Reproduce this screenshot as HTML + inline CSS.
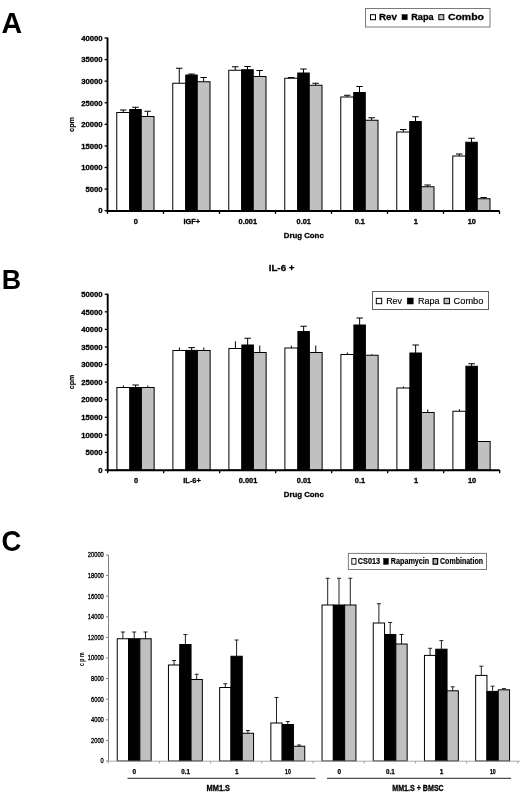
<!DOCTYPE html>
<html lang="en"><head><meta charset="utf-8"><title>Figure: Rev / Rapa / Combo proliferation</title>
<style>html,body{margin:0;padding:0;background:#fff;width:520px;height:793px;overflow:hidden}svg{display:block;will-change:transform;opacity:.999}text{font-family:'Liberation Sans', Arial, Helvetica, sans-serif}</style></head><body>
<svg width="520" height="793" viewBox="0 0 520 793">
<rect x="0" y="0" width="520" height="793" fill="#fff"/>
<g id="chartA">
<text x="1.6" y="33.2" font-size="28.6" font-weight="bold" text-anchor="start" fill="#000" >A</text>
<line x1="123.25" y1="112.5" x2="123.25" y2="110" stroke="#000" stroke-width="1"/>
<line x1="120" y1="110" x2="126.5" y2="110" stroke="#000" stroke-width="1"/>
<rect x="116.75" y="112.5" width="13" height="98.2" fill="#fff" stroke="#000" stroke-width="1"/>
<line x1="135.5" y1="109.5" x2="135.5" y2="107.25" stroke="#000" stroke-width="1"/>
<line x1="132.25" y1="107.25" x2="138.75" y2="107.25" stroke="#000" stroke-width="1"/>
<rect x="129.75" y="109.5" width="11.5" height="101.2" fill="#000" stroke="#000" stroke-width="1"/>
<line x1="147.62" y1="116.5" x2="147.62" y2="111.25" stroke="#000" stroke-width="1"/>
<line x1="144.38" y1="111.25" x2="150.88" y2="111.25" stroke="#000" stroke-width="1"/>
<rect x="141.25" y="116.5" width="12.75" height="94.2" fill="#c0c0c0" stroke="#000" stroke-width="1"/>
<line x1="179.25" y1="83.25" x2="179.25" y2="68.25" stroke="#000" stroke-width="1"/>
<line x1="176" y1="68.25" x2="182.5" y2="68.25" stroke="#000" stroke-width="1"/>
<rect x="172.75" y="83.25" width="13" height="127.45" fill="#fff" stroke="#000" stroke-width="1"/>
<line x1="191.5" y1="75" x2="191.5" y2="74" stroke="#000" stroke-width="1"/>
<line x1="188.25" y1="74" x2="194.75" y2="74" stroke="#000" stroke-width="1"/>
<rect x="185.75" y="75" width="11.5" height="135.7" fill="#000" stroke="#000" stroke-width="1"/>
<line x1="203.62" y1="81.75" x2="203.62" y2="77.5" stroke="#000" stroke-width="1"/>
<line x1="200.38" y1="77.5" x2="206.88" y2="77.5" stroke="#000" stroke-width="1"/>
<rect x="197.25" y="81.75" width="12.75" height="128.95" fill="#c0c0c0" stroke="#000" stroke-width="1"/>
<line x1="235.25" y1="70.25" x2="235.25" y2="66.75" stroke="#000" stroke-width="1"/>
<line x1="232" y1="66.75" x2="238.5" y2="66.75" stroke="#000" stroke-width="1"/>
<rect x="228.75" y="70.25" width="13" height="140.45" fill="#fff" stroke="#000" stroke-width="1"/>
<line x1="247.5" y1="69.75" x2="247.5" y2="66.5" stroke="#000" stroke-width="1"/>
<line x1="244.25" y1="66.5" x2="250.75" y2="66.5" stroke="#000" stroke-width="1"/>
<rect x="241.75" y="69.75" width="11.5" height="140.95" fill="#000" stroke="#000" stroke-width="1"/>
<line x1="259.62" y1="76.5" x2="259.62" y2="70.5" stroke="#000" stroke-width="1"/>
<line x1="256.38" y1="70.5" x2="262.88" y2="70.5" stroke="#000" stroke-width="1"/>
<rect x="253.25" y="76.5" width="12.75" height="134.2" fill="#c0c0c0" stroke="#000" stroke-width="1"/>
<line x1="291.25" y1="78.25" x2="291.25" y2="77.5" stroke="#000" stroke-width="1"/>
<line x1="288" y1="77.5" x2="294.5" y2="77.5" stroke="#000" stroke-width="1"/>
<rect x="284.75" y="78.25" width="13" height="132.45" fill="#fff" stroke="#000" stroke-width="1"/>
<line x1="303.5" y1="73" x2="303.5" y2="69" stroke="#000" stroke-width="1"/>
<line x1="300.25" y1="69" x2="306.75" y2="69" stroke="#000" stroke-width="1"/>
<rect x="297.75" y="73" width="11.5" height="137.7" fill="#000" stroke="#000" stroke-width="1"/>
<line x1="315.62" y1="85.25" x2="315.62" y2="83.25" stroke="#000" stroke-width="1"/>
<line x1="312.38" y1="83.25" x2="318.88" y2="83.25" stroke="#000" stroke-width="1"/>
<rect x="309.25" y="85.25" width="12.75" height="125.45" fill="#c0c0c0" stroke="#000" stroke-width="1"/>
<line x1="347.25" y1="97" x2="347.25" y2="95.25" stroke="#000" stroke-width="1"/>
<line x1="344" y1="95.25" x2="350.5" y2="95.25" stroke="#000" stroke-width="1"/>
<rect x="340.75" y="97" width="13" height="113.7" fill="#fff" stroke="#000" stroke-width="1"/>
<line x1="359.5" y1="92.5" x2="359.5" y2="86.5" stroke="#000" stroke-width="1"/>
<line x1="356.25" y1="86.5" x2="362.75" y2="86.5" stroke="#000" stroke-width="1"/>
<rect x="353.75" y="92.5" width="11.5" height="118.2" fill="#000" stroke="#000" stroke-width="1"/>
<line x1="371.62" y1="120.25" x2="371.62" y2="117.75" stroke="#000" stroke-width="1"/>
<line x1="368.38" y1="117.75" x2="374.88" y2="117.75" stroke="#000" stroke-width="1"/>
<rect x="365.25" y="120.25" width="12.75" height="90.45" fill="#c0c0c0" stroke="#000" stroke-width="1"/>
<line x1="403.25" y1="132" x2="403.25" y2="129.5" stroke="#000" stroke-width="1"/>
<line x1="400" y1="129.5" x2="406.5" y2="129.5" stroke="#000" stroke-width="1"/>
<rect x="396.75" y="132" width="13" height="78.7" fill="#fff" stroke="#000" stroke-width="1"/>
<line x1="415.5" y1="121.5" x2="415.5" y2="116.75" stroke="#000" stroke-width="1"/>
<line x1="412.25" y1="116.75" x2="418.75" y2="116.75" stroke="#000" stroke-width="1"/>
<rect x="409.75" y="121.5" width="11.5" height="89.2" fill="#000" stroke="#000" stroke-width="1"/>
<line x1="427.62" y1="186.75" x2="427.62" y2="185" stroke="#000" stroke-width="1"/>
<line x1="424.38" y1="185" x2="430.88" y2="185" stroke="#000" stroke-width="1"/>
<rect x="421.25" y="186.75" width="12.75" height="23.95" fill="#c0c0c0" stroke="#000" stroke-width="1"/>
<line x1="459.25" y1="156" x2="459.25" y2="154" stroke="#000" stroke-width="1"/>
<line x1="456" y1="154" x2="462.5" y2="154" stroke="#000" stroke-width="1"/>
<rect x="452.75" y="156" width="13" height="54.7" fill="#fff" stroke="#000" stroke-width="1"/>
<line x1="471.5" y1="142.25" x2="471.5" y2="138.25" stroke="#000" stroke-width="1"/>
<line x1="468.25" y1="138.25" x2="474.75" y2="138.25" stroke="#000" stroke-width="1"/>
<rect x="465.75" y="142.25" width="11.5" height="68.45" fill="#000" stroke="#000" stroke-width="1"/>
<line x1="483.62" y1="198.75" x2="483.62" y2="197.5" stroke="#000" stroke-width="1"/>
<line x1="480.38" y1="197.5" x2="486.88" y2="197.5" stroke="#000" stroke-width="1"/>
<rect x="477.25" y="198.75" width="12.75" height="11.95" fill="#c0c0c0" stroke="#000" stroke-width="1"/>
<line x1="107.5" y1="37.5" x2="107.5" y2="212" stroke="#000" stroke-width="1.9"/>
<line x1="106.6" y1="211.05" x2="499.4" y2="211.05" stroke="#000" stroke-width="2"/>
<line x1="104.6" y1="210.7" x2="107.5" y2="210.7" stroke="#000" stroke-width="1.3"/>
<text x="102.6" y="213.45" font-size="7.7" font-weight="bold" text-anchor="end" fill="#000" stroke="#000" stroke-width="0.3" stroke-linejoin="round" >0</text>
<line x1="104.6" y1="189.11" x2="107.5" y2="189.11" stroke="#000" stroke-width="1.3"/>
<text x="102.6" y="191.86" font-size="7.7" font-weight="bold" text-anchor="end" fill="#000" stroke="#000" stroke-width="0.3" stroke-linejoin="round" >5000</text>
<line x1="104.6" y1="167.52" x2="107.5" y2="167.52" stroke="#000" stroke-width="1.3"/>
<text x="102.6" y="170.27" font-size="7.7" font-weight="bold" text-anchor="end" fill="#000" stroke="#000" stroke-width="0.3" stroke-linejoin="round" >10000</text>
<line x1="104.6" y1="145.94" x2="107.5" y2="145.94" stroke="#000" stroke-width="1.3"/>
<text x="102.6" y="148.69" font-size="7.7" font-weight="bold" text-anchor="end" fill="#000" stroke="#000" stroke-width="0.3" stroke-linejoin="round" >15000</text>
<line x1="104.6" y1="124.35" x2="107.5" y2="124.35" stroke="#000" stroke-width="1.3"/>
<text x="102.6" y="127.1" font-size="7.7" font-weight="bold" text-anchor="end" fill="#000" stroke="#000" stroke-width="0.3" stroke-linejoin="round" >20000</text>
<line x1="104.6" y1="102.76" x2="107.5" y2="102.76" stroke="#000" stroke-width="1.3"/>
<text x="102.6" y="105.51" font-size="7.7" font-weight="bold" text-anchor="end" fill="#000" stroke="#000" stroke-width="0.3" stroke-linejoin="round" >25000</text>
<line x1="104.6" y1="81.18" x2="107.5" y2="81.18" stroke="#000" stroke-width="1.3"/>
<text x="102.6" y="83.93" font-size="7.7" font-weight="bold" text-anchor="end" fill="#000" stroke="#000" stroke-width="0.3" stroke-linejoin="round" >30000</text>
<line x1="104.6" y1="59.59" x2="107.5" y2="59.59" stroke="#000" stroke-width="1.3"/>
<text x="102.6" y="62.34" font-size="7.7" font-weight="bold" text-anchor="end" fill="#000" stroke="#000" stroke-width="0.3" stroke-linejoin="round" >35000</text>
<line x1="104.6" y1="38" x2="107.5" y2="38" stroke="#000" stroke-width="1.3"/>
<text x="102.6" y="40.75" font-size="7.7" font-weight="bold" text-anchor="end" fill="#000" stroke="#000" stroke-width="0.3" stroke-linejoin="round" >40000</text>
<line x1="107.5" y1="210.7" x2="107.5" y2="213.9" stroke="#000" stroke-width="1.3"/>
<line x1="163.5" y1="210.7" x2="163.5" y2="213.9" stroke="#000" stroke-width="1.3"/>
<line x1="219.5" y1="210.7" x2="219.5" y2="213.9" stroke="#000" stroke-width="1.3"/>
<line x1="275.5" y1="210.7" x2="275.5" y2="213.9" stroke="#000" stroke-width="1.3"/>
<line x1="331.5" y1="210.7" x2="331.5" y2="213.9" stroke="#000" stroke-width="1.3"/>
<line x1="387.5" y1="210.7" x2="387.5" y2="213.9" stroke="#000" stroke-width="1.3"/>
<line x1="443.5" y1="210.7" x2="443.5" y2="213.9" stroke="#000" stroke-width="1.3"/>
<line x1="499.5" y1="210.7" x2="499.5" y2="213.9" stroke="#000" stroke-width="1.3"/>
<text x="135.8" y="224.2" font-size="7.4" font-weight="bold" text-anchor="middle" fill="#000" stroke="#000" stroke-width="0.3" stroke-linejoin="round" >0</text>
<text x="191.8" y="224.2" font-size="7.4" font-weight="bold" text-anchor="middle" fill="#000" stroke="#000" stroke-width="0.3" stroke-linejoin="round" >IGF+</text>
<text x="247.8" y="224.2" font-size="7.4" font-weight="bold" text-anchor="middle" fill="#000" stroke="#000" stroke-width="0.3" stroke-linejoin="round" >0.001</text>
<text x="303.8" y="224.2" font-size="7.4" font-weight="bold" text-anchor="middle" fill="#000" stroke="#000" stroke-width="0.3" stroke-linejoin="round" >0.01</text>
<text x="359.8" y="224.2" font-size="7.4" font-weight="bold" text-anchor="middle" fill="#000" stroke="#000" stroke-width="0.3" stroke-linejoin="round" >0.1</text>
<text x="415.8" y="224.2" font-size="7.4" font-weight="bold" text-anchor="middle" fill="#000" stroke="#000" stroke-width="0.3" stroke-linejoin="round" >1</text>
<text x="471.8" y="224.2" font-size="7.4" font-weight="bold" text-anchor="middle" fill="#000" stroke="#000" stroke-width="0.3" stroke-linejoin="round" >10</text>
<text x="303.75" y="238.4" font-size="7.8" font-weight="bold" text-anchor="middle" fill="#000" textLength="40" lengthAdjust="spacingAndGlyphs" stroke="#000" stroke-width="0.3" stroke-linejoin="round" >Drug Conc</text>
<text x="0" y="0" font-size="7.3" font-weight="bold" text-anchor="middle" fill="#000" stroke="#000" stroke-width="0.15" stroke-linejoin="round" transform="translate(73.6 124.4) rotate(-90)">cpm</text>
<rect x="365.5" y="8.5" width="124.5" height="18.5" fill="#fff" stroke="#7a7a7a" stroke-width="1"/>
<rect x="370.5" y="14.7" width="5" height="5" fill="#fff" stroke="#000" stroke-width="1"/>
<text x="379" y="20.3" font-size="9.5" font-weight="bold" text-anchor="start" fill="#000" textLength="18" lengthAdjust="spacingAndGlyphs" stroke="#000" stroke-width="0.3" stroke-linejoin="round" >Rev</text>
<rect x="402" y="14.6" width="5.2" height="5.2" fill="#000" stroke="#000" stroke-width="0.5"/>
<text x="411.2" y="20.3" font-size="9.5" font-weight="bold" text-anchor="start" fill="#000" textLength="22.4" lengthAdjust="spacingAndGlyphs" stroke="#000" stroke-width="0.3" stroke-linejoin="round" >Rapa</text>
<rect x="438.8" y="14.7" width="5" height="5" fill="#c0c0c0" stroke="#000" stroke-width="1"/>
<text x="447.9" y="20.3" font-size="9.5" font-weight="bold" text-anchor="start" fill="#000" textLength="36.1" lengthAdjust="spacingAndGlyphs" stroke="#000" stroke-width="0.3" stroke-linejoin="round" >Combo</text>
</g>
<g id="chartB">
<text x="1.8" y="289.4" font-size="26.8" font-weight="bold" text-anchor="start" fill="#000" >B</text>
<text x="281.6" y="270.7" font-size="9.5" font-weight="bold" text-anchor="middle" fill="#000" textLength="25.8" lengthAdjust="spacingAndGlyphs" stroke="#000" stroke-width="0.3" stroke-linejoin="round" >IL-6 +</text>
<line x1="123.4" y1="387.5" x2="123.4" y2="385.5" stroke="#000" stroke-width="1"/>
<rect x="116.9" y="387.5" width="13" height="82.5" fill="#fff" stroke="#000" stroke-width="1"/>
<line x1="135.65" y1="387.5" x2="135.65" y2="385" stroke="#000" stroke-width="1"/>
<line x1="132.4" y1="385" x2="138.9" y2="385" stroke="#000" stroke-width="1"/>
<rect x="129.9" y="387.5" width="11.5" height="82.5" fill="#000" stroke="#000" stroke-width="1"/>
<line x1="147.78" y1="387.5" x2="147.78" y2="385.5" stroke="#000" stroke-width="1"/>
<rect x="141.4" y="387.5" width="12.75" height="82.5" fill="#c0c0c0" stroke="#000" stroke-width="1"/>
<line x1="179.4" y1="350.5" x2="179.4" y2="347.5" stroke="#000" stroke-width="1"/>
<rect x="172.9" y="350.5" width="13" height="119.5" fill="#fff" stroke="#000" stroke-width="1"/>
<line x1="191.65" y1="350.4" x2="191.65" y2="347.6" stroke="#000" stroke-width="1"/>
<line x1="188.4" y1="347.6" x2="194.9" y2="347.6" stroke="#000" stroke-width="1"/>
<rect x="185.9" y="350.4" width="11.5" height="119.6" fill="#000" stroke="#000" stroke-width="1"/>
<line x1="203.78" y1="350.5" x2="203.78" y2="347.5" stroke="#000" stroke-width="1"/>
<rect x="197.4" y="350.5" width="12.75" height="119.5" fill="#c0c0c0" stroke="#000" stroke-width="1"/>
<line x1="235.4" y1="348.5" x2="235.4" y2="341.25" stroke="#000" stroke-width="1"/>
<rect x="228.9" y="348.5" width="13" height="121.5" fill="#fff" stroke="#000" stroke-width="1"/>
<line x1="247.65" y1="345" x2="247.65" y2="338.25" stroke="#000" stroke-width="1"/>
<line x1="244.4" y1="338.25" x2="250.9" y2="338.25" stroke="#000" stroke-width="1"/>
<rect x="241.9" y="345" width="11.5" height="125" fill="#000" stroke="#000" stroke-width="1"/>
<line x1="259.77" y1="352.5" x2="259.77" y2="345.5" stroke="#000" stroke-width="1"/>
<rect x="253.4" y="352.5" width="12.75" height="117.5" fill="#c0c0c0" stroke="#000" stroke-width="1"/>
<line x1="291.4" y1="348" x2="291.4" y2="345.75" stroke="#000" stroke-width="1"/>
<rect x="284.9" y="348" width="13" height="122" fill="#fff" stroke="#000" stroke-width="1"/>
<line x1="303.65" y1="331.5" x2="303.65" y2="326.25" stroke="#000" stroke-width="1"/>
<line x1="300.4" y1="326.25" x2="306.9" y2="326.25" stroke="#000" stroke-width="1"/>
<rect x="297.9" y="331.5" width="11.5" height="138.5" fill="#000" stroke="#000" stroke-width="1"/>
<line x1="315.77" y1="352.5" x2="315.77" y2="345.5" stroke="#000" stroke-width="1"/>
<rect x="309.4" y="352.5" width="12.75" height="117.5" fill="#c0c0c0" stroke="#000" stroke-width="1"/>
<line x1="347.4" y1="354.5" x2="347.4" y2="352.5" stroke="#000" stroke-width="1"/>
<rect x="340.9" y="354.5" width="13" height="115.5" fill="#fff" stroke="#000" stroke-width="1"/>
<line x1="359.65" y1="325" x2="359.65" y2="318" stroke="#000" stroke-width="1"/>
<line x1="356.4" y1="318" x2="362.9" y2="318" stroke="#000" stroke-width="1"/>
<rect x="353.9" y="325" width="11.5" height="145" fill="#000" stroke="#000" stroke-width="1"/>
<line x1="371.77" y1="355.25" x2="371.77" y2="354.25" stroke="#000" stroke-width="1"/>
<rect x="365.4" y="355.25" width="12.75" height="114.75" fill="#c0c0c0" stroke="#000" stroke-width="1"/>
<line x1="403.4" y1="388" x2="403.4" y2="386.5" stroke="#000" stroke-width="1"/>
<rect x="396.9" y="388" width="13" height="82" fill="#fff" stroke="#000" stroke-width="1"/>
<line x1="415.65" y1="353" x2="415.65" y2="345" stroke="#000" stroke-width="1"/>
<line x1="412.4" y1="345" x2="418.9" y2="345" stroke="#000" stroke-width="1"/>
<rect x="409.9" y="353" width="11.5" height="117" fill="#000" stroke="#000" stroke-width="1"/>
<line x1="427.77" y1="412.5" x2="427.77" y2="409.5" stroke="#000" stroke-width="1"/>
<rect x="421.4" y="412.5" width="12.75" height="57.5" fill="#c0c0c0" stroke="#000" stroke-width="1"/>
<line x1="459.4" y1="411.25" x2="459.4" y2="409.25" stroke="#000" stroke-width="1"/>
<rect x="452.9" y="411.25" width="13" height="58.75" fill="#fff" stroke="#000" stroke-width="1"/>
<line x1="471.65" y1="366.25" x2="471.65" y2="363.75" stroke="#000" stroke-width="1"/>
<line x1="468.4" y1="363.75" x2="474.9" y2="363.75" stroke="#000" stroke-width="1"/>
<rect x="465.9" y="366.25" width="11.5" height="103.75" fill="#000" stroke="#000" stroke-width="1"/>
<rect x="477.4" y="441.5" width="12.75" height="28.5" fill="#c0c0c0" stroke="#000" stroke-width="1"/>
<line x1="107.7" y1="293.75" x2="107.7" y2="471.3" stroke="#000" stroke-width="1.9"/>
<line x1="106.8" y1="470.35" x2="499.6" y2="470.35" stroke="#000" stroke-width="2"/>
<line x1="104.8" y1="470" x2="107.7" y2="470" stroke="#000" stroke-width="1.3"/>
<text x="102.6" y="472.75" font-size="7.7" font-weight="bold" text-anchor="end" fill="#000" stroke="#000" stroke-width="0.3" stroke-linejoin="round" >0</text>
<line x1="104.8" y1="452.43" x2="107.7" y2="452.43" stroke="#000" stroke-width="1.3"/>
<text x="102.6" y="455.18" font-size="7.7" font-weight="bold" text-anchor="end" fill="#000" stroke="#000" stroke-width="0.3" stroke-linejoin="round" >5000</text>
<line x1="104.8" y1="434.85" x2="107.7" y2="434.85" stroke="#000" stroke-width="1.3"/>
<text x="102.6" y="437.6" font-size="7.7" font-weight="bold" text-anchor="end" fill="#000" stroke="#000" stroke-width="0.3" stroke-linejoin="round" >10000</text>
<line x1="104.8" y1="417.27" x2="107.7" y2="417.27" stroke="#000" stroke-width="1.3"/>
<text x="102.6" y="420.02" font-size="7.7" font-weight="bold" text-anchor="end" fill="#000" stroke="#000" stroke-width="0.3" stroke-linejoin="round" >15000</text>
<line x1="104.8" y1="399.7" x2="107.7" y2="399.7" stroke="#000" stroke-width="1.3"/>
<text x="102.6" y="402.45" font-size="7.7" font-weight="bold" text-anchor="end" fill="#000" stroke="#000" stroke-width="0.3" stroke-linejoin="round" >20000</text>
<line x1="104.8" y1="382.12" x2="107.7" y2="382.12" stroke="#000" stroke-width="1.3"/>
<text x="102.6" y="384.88" font-size="7.7" font-weight="bold" text-anchor="end" fill="#000" stroke="#000" stroke-width="0.3" stroke-linejoin="round" >25000</text>
<line x1="104.8" y1="364.55" x2="107.7" y2="364.55" stroke="#000" stroke-width="1.3"/>
<text x="102.6" y="367.3" font-size="7.7" font-weight="bold" text-anchor="end" fill="#000" stroke="#000" stroke-width="0.3" stroke-linejoin="round" >30000</text>
<line x1="104.8" y1="346.98" x2="107.7" y2="346.98" stroke="#000" stroke-width="1.3"/>
<text x="102.6" y="349.73" font-size="7.7" font-weight="bold" text-anchor="end" fill="#000" stroke="#000" stroke-width="0.3" stroke-linejoin="round" >35000</text>
<line x1="104.8" y1="329.4" x2="107.7" y2="329.4" stroke="#000" stroke-width="1.3"/>
<text x="102.6" y="332.15" font-size="7.7" font-weight="bold" text-anchor="end" fill="#000" stroke="#000" stroke-width="0.3" stroke-linejoin="round" >40000</text>
<line x1="104.8" y1="311.82" x2="107.7" y2="311.82" stroke="#000" stroke-width="1.3"/>
<text x="102.6" y="314.57" font-size="7.7" font-weight="bold" text-anchor="end" fill="#000" stroke="#000" stroke-width="0.3" stroke-linejoin="round" >45000</text>
<line x1="104.8" y1="294.25" x2="107.7" y2="294.25" stroke="#000" stroke-width="1.3"/>
<text x="102.6" y="297" font-size="7.7" font-weight="bold" text-anchor="end" fill="#000" stroke="#000" stroke-width="0.3" stroke-linejoin="round" >50000</text>
<line x1="107.7" y1="470" x2="107.7" y2="473.2" stroke="#000" stroke-width="1.3"/>
<line x1="163.7" y1="470" x2="163.7" y2="473.2" stroke="#000" stroke-width="1.3"/>
<line x1="219.7" y1="470" x2="219.7" y2="473.2" stroke="#000" stroke-width="1.3"/>
<line x1="275.7" y1="470" x2="275.7" y2="473.2" stroke="#000" stroke-width="1.3"/>
<line x1="331.7" y1="470" x2="331.7" y2="473.2" stroke="#000" stroke-width="1.3"/>
<line x1="387.7" y1="470" x2="387.7" y2="473.2" stroke="#000" stroke-width="1.3"/>
<line x1="443.7" y1="470" x2="443.7" y2="473.2" stroke="#000" stroke-width="1.3"/>
<line x1="499.7" y1="470" x2="499.7" y2="473.2" stroke="#000" stroke-width="1.3"/>
<text x="136" y="483.2" font-size="7.4" font-weight="bold" text-anchor="middle" fill="#000" stroke="#000" stroke-width="0.3" stroke-linejoin="round" >0</text>
<text x="192" y="483.2" font-size="7.4" font-weight="bold" text-anchor="middle" fill="#000" stroke="#000" stroke-width="0.3" stroke-linejoin="round" >IL-6+</text>
<text x="248" y="483.2" font-size="7.4" font-weight="bold" text-anchor="middle" fill="#000" stroke="#000" stroke-width="0.3" stroke-linejoin="round" >0.001</text>
<text x="304" y="483.2" font-size="7.4" font-weight="bold" text-anchor="middle" fill="#000" stroke="#000" stroke-width="0.3" stroke-linejoin="round" >0.01</text>
<text x="360" y="483.2" font-size="7.4" font-weight="bold" text-anchor="middle" fill="#000" stroke="#000" stroke-width="0.3" stroke-linejoin="round" >0.1</text>
<text x="416" y="483.2" font-size="7.4" font-weight="bold" text-anchor="middle" fill="#000" stroke="#000" stroke-width="0.3" stroke-linejoin="round" >1</text>
<text x="472" y="483.2" font-size="7.4" font-weight="bold" text-anchor="middle" fill="#000" stroke="#000" stroke-width="0.3" stroke-linejoin="round" >10</text>
<text x="303.75" y="497.3" font-size="7.8" font-weight="bold" text-anchor="middle" fill="#000" textLength="40" lengthAdjust="spacingAndGlyphs" stroke="#000" stroke-width="0.3" stroke-linejoin="round" >Drug Conc</text>
<text x="0" y="0" font-size="7.1" font-weight="bold" text-anchor="middle" fill="#000" stroke="#000" stroke-width="0.15" stroke-linejoin="round" transform="translate(73.6 382) rotate(-90)">cpm</text>
<rect x="372.5" y="291.5" width="116" height="18" fill="#fff" stroke="#606060" stroke-width="1"/>
<rect x="376.3" y="298.3" width="5.4" height="5.4" fill="#fff" stroke="#000" stroke-width="1"/>
<text x="386.2" y="304" font-size="9.6" font-weight="normal" text-anchor="start" fill="#000" textLength="15.8" lengthAdjust="spacingAndGlyphs" stroke="#000" stroke-width="0.15" stroke-linejoin="round" >Rev</text>
<rect x="407.2" y="298" width="6" height="6" fill="#000" stroke="#000" stroke-width="0.5"/>
<text x="417.9" y="304" font-size="9.6" font-weight="normal" text-anchor="start" fill="#000" textLength="21.6" lengthAdjust="spacingAndGlyphs" stroke="#000" stroke-width="0.15" stroke-linejoin="round" >Rapa</text>
<rect x="444.1" y="298.3" width="5.4" height="5.4" fill="#c0c0c0" stroke="#000" stroke-width="1"/>
<text x="453.6" y="304" font-size="9.6" font-weight="normal" text-anchor="start" fill="#000" textLength="29.8" lengthAdjust="spacingAndGlyphs" stroke="#000" stroke-width="0.15" stroke-linejoin="round" >Combo</text>
</g>
<g id="chartC">
<text x="1.4" y="551.3" font-size="29.4" font-weight="bold" text-anchor="start" fill="#000" textLength="19.8" lengthAdjust="spacingAndGlyphs" >C</text>
<line x1="122.9" y1="638.75" x2="122.9" y2="632" stroke="#222" stroke-width="1"/>
<line x1="120.9" y1="632" x2="124.9" y2="632" stroke="#222" stroke-width="1"/>
<rect x="117.25" y="638.75" width="11.3" height="122.25" fill="#fff" stroke="#000" stroke-width="1"/>
<line x1="134.2" y1="638.75" x2="134.2" y2="632" stroke="#222" stroke-width="1"/>
<line x1="132.2" y1="632" x2="136.2" y2="632" stroke="#222" stroke-width="1"/>
<rect x="128.55" y="638.75" width="11.3" height="122.25" fill="#000" stroke="#000" stroke-width="1"/>
<line x1="145.5" y1="638.75" x2="145.5" y2="632" stroke="#222" stroke-width="1"/>
<line x1="143.5" y1="632" x2="147.5" y2="632" stroke="#222" stroke-width="1"/>
<rect x="139.85" y="638.75" width="11.3" height="122.25" fill="#c0c0c0" stroke="#000" stroke-width="1"/>
<line x1="174.1" y1="665" x2="174.1" y2="660.5" stroke="#222" stroke-width="1"/>
<line x1="172.1" y1="660.5" x2="176.1" y2="660.5" stroke="#222" stroke-width="1"/>
<rect x="168.45" y="665" width="11.3" height="96" fill="#fff" stroke="#000" stroke-width="1"/>
<line x1="185.4" y1="644.5" x2="185.4" y2="634.5" stroke="#222" stroke-width="1"/>
<line x1="183.4" y1="634.5" x2="187.4" y2="634.5" stroke="#222" stroke-width="1"/>
<rect x="179.75" y="644.5" width="11.3" height="116.5" fill="#000" stroke="#000" stroke-width="1"/>
<line x1="196.7" y1="679.5" x2="196.7" y2="674.25" stroke="#222" stroke-width="1"/>
<line x1="194.7" y1="674.25" x2="198.7" y2="674.25" stroke="#222" stroke-width="1"/>
<rect x="191.05" y="679.5" width="11.3" height="81.5" fill="#c0c0c0" stroke="#000" stroke-width="1"/>
<line x1="225.3" y1="687.5" x2="225.3" y2="683.75" stroke="#222" stroke-width="1"/>
<line x1="223.3" y1="683.75" x2="227.3" y2="683.75" stroke="#222" stroke-width="1"/>
<rect x="219.65" y="687.5" width="11.3" height="73.5" fill="#fff" stroke="#000" stroke-width="1"/>
<line x1="236.6" y1="656.25" x2="236.6" y2="640" stroke="#222" stroke-width="1"/>
<line x1="234.6" y1="640" x2="238.6" y2="640" stroke="#222" stroke-width="1"/>
<rect x="230.95" y="656.25" width="11.3" height="104.75" fill="#000" stroke="#000" stroke-width="1"/>
<line x1="247.9" y1="733.25" x2="247.9" y2="730.5" stroke="#222" stroke-width="1"/>
<line x1="245.9" y1="730.5" x2="249.9" y2="730.5" stroke="#222" stroke-width="1"/>
<rect x="242.25" y="733.25" width="11.3" height="27.75" fill="#c0c0c0" stroke="#000" stroke-width="1"/>
<line x1="276.5" y1="723" x2="276.5" y2="697.5" stroke="#222" stroke-width="1"/>
<line x1="274.5" y1="697.5" x2="278.5" y2="697.5" stroke="#222" stroke-width="1"/>
<rect x="270.85" y="723" width="11.3" height="38" fill="#fff" stroke="#000" stroke-width="1"/>
<line x1="287.8" y1="724.5" x2="287.8" y2="721.5" stroke="#222" stroke-width="1"/>
<line x1="285.8" y1="721.5" x2="289.8" y2="721.5" stroke="#222" stroke-width="1"/>
<rect x="282.15" y="724.5" width="11.3" height="36.5" fill="#000" stroke="#000" stroke-width="1"/>
<line x1="299.1" y1="746.25" x2="299.1" y2="745" stroke="#222" stroke-width="1"/>
<line x1="297.1" y1="745" x2="301.1" y2="745" stroke="#222" stroke-width="1"/>
<rect x="293.45" y="746.25" width="11.3" height="14.75" fill="#c0c0c0" stroke="#000" stroke-width="1"/>
<line x1="327.7" y1="605" x2="327.7" y2="578.25" stroke="#222" stroke-width="1"/>
<line x1="325.7" y1="578.25" x2="329.7" y2="578.25" stroke="#222" stroke-width="1"/>
<rect x="322.05" y="605" width="11.3" height="156" fill="#fff" stroke="#000" stroke-width="1"/>
<line x1="339" y1="605" x2="339" y2="578.25" stroke="#222" stroke-width="1"/>
<line x1="337" y1="578.25" x2="341" y2="578.25" stroke="#222" stroke-width="1"/>
<rect x="333.35" y="605" width="11.3" height="156" fill="#000" stroke="#000" stroke-width="1"/>
<line x1="350.3" y1="605" x2="350.3" y2="578.25" stroke="#222" stroke-width="1"/>
<line x1="348.3" y1="578.25" x2="352.3" y2="578.25" stroke="#222" stroke-width="1"/>
<rect x="344.65" y="605" width="11.3" height="156" fill="#c0c0c0" stroke="#000" stroke-width="1"/>
<line x1="378.9" y1="623" x2="378.9" y2="603.7" stroke="#222" stroke-width="1"/>
<line x1="376.9" y1="603.7" x2="380.9" y2="603.7" stroke="#222" stroke-width="1"/>
<rect x="373.25" y="623" width="11.3" height="138" fill="#fff" stroke="#000" stroke-width="1"/>
<line x1="390.2" y1="634.5" x2="390.2" y2="622.5" stroke="#222" stroke-width="1"/>
<line x1="388.2" y1="622.5" x2="392.2" y2="622.5" stroke="#222" stroke-width="1"/>
<rect x="384.55" y="634.5" width="11.3" height="126.5" fill="#000" stroke="#000" stroke-width="1"/>
<line x1="401.5" y1="644" x2="401.5" y2="634.5" stroke="#222" stroke-width="1"/>
<line x1="399.5" y1="634.5" x2="403.5" y2="634.5" stroke="#222" stroke-width="1"/>
<rect x="395.85" y="644" width="11.3" height="117" fill="#c0c0c0" stroke="#000" stroke-width="1"/>
<line x1="430.1" y1="655.4" x2="430.1" y2="648.3" stroke="#222" stroke-width="1"/>
<line x1="428.1" y1="648.3" x2="432.1" y2="648.3" stroke="#222" stroke-width="1"/>
<rect x="424.45" y="655.4" width="11.3" height="105.6" fill="#fff" stroke="#000" stroke-width="1"/>
<line x1="441.4" y1="649.2" x2="441.4" y2="640.6" stroke="#222" stroke-width="1"/>
<line x1="439.4" y1="640.6" x2="443.4" y2="640.6" stroke="#222" stroke-width="1"/>
<rect x="435.75" y="649.2" width="11.3" height="111.8" fill="#000" stroke="#000" stroke-width="1"/>
<line x1="452.7" y1="690.8" x2="452.7" y2="686.8" stroke="#222" stroke-width="1"/>
<line x1="450.7" y1="686.8" x2="454.7" y2="686.8" stroke="#222" stroke-width="1"/>
<rect x="447.05" y="690.8" width="11.3" height="70.2" fill="#c0c0c0" stroke="#000" stroke-width="1"/>
<line x1="481.3" y1="675.4" x2="481.3" y2="666.2" stroke="#222" stroke-width="1"/>
<line x1="479.3" y1="666.2" x2="483.3" y2="666.2" stroke="#222" stroke-width="1"/>
<rect x="475.65" y="675.4" width="11.3" height="85.6" fill="#fff" stroke="#000" stroke-width="1"/>
<line x1="492.6" y1="691.4" x2="492.6" y2="686.2" stroke="#222" stroke-width="1"/>
<line x1="490.6" y1="686.2" x2="494.6" y2="686.2" stroke="#222" stroke-width="1"/>
<rect x="486.95" y="691.4" width="11.3" height="69.6" fill="#000" stroke="#000" stroke-width="1"/>
<line x1="503.9" y1="689.8" x2="503.9" y2="688.6" stroke="#222" stroke-width="1"/>
<line x1="501.9" y1="688.6" x2="505.9" y2="688.6" stroke="#222" stroke-width="1"/>
<rect x="498.25" y="689.8" width="11.3" height="71.2" fill="#c0c0c0" stroke="#000" stroke-width="1"/>
<line x1="108.5" y1="555" x2="108.5" y2="761" stroke="#808080" stroke-width="1"/>
<line x1="108.5" y1="761.2" x2="520" y2="761.2" stroke="#a8a8a8" stroke-width="1"/>
<line x1="106" y1="761" x2="108.5" y2="761" stroke="#808080" stroke-width="1"/>
<text x="103.8" y="763.4" font-size="7.0" font-weight="normal" text-anchor="end" fill="#000" textLength="3.2" lengthAdjust="spacingAndGlyphs" stroke="#000" stroke-width="0.32" stroke-linejoin="round" >0</text>
<line x1="106" y1="740.4" x2="108.5" y2="740.4" stroke="#808080" stroke-width="1"/>
<text x="103.8" y="742.8" font-size="7.0" font-weight="normal" text-anchor="end" fill="#000" textLength="12.8" lengthAdjust="spacingAndGlyphs" stroke="#000" stroke-width="0.32" stroke-linejoin="round" >2000</text>
<line x1="106" y1="719.8" x2="108.5" y2="719.8" stroke="#808080" stroke-width="1"/>
<text x="103.8" y="722.2" font-size="7.0" font-weight="normal" text-anchor="end" fill="#000" textLength="12.8" lengthAdjust="spacingAndGlyphs" stroke="#000" stroke-width="0.32" stroke-linejoin="round" >4000</text>
<line x1="106" y1="699.2" x2="108.5" y2="699.2" stroke="#808080" stroke-width="1"/>
<text x="103.8" y="701.6" font-size="7.0" font-weight="normal" text-anchor="end" fill="#000" textLength="12.8" lengthAdjust="spacingAndGlyphs" stroke="#000" stroke-width="0.32" stroke-linejoin="round" >6000</text>
<line x1="106" y1="678.6" x2="108.5" y2="678.6" stroke="#808080" stroke-width="1"/>
<text x="103.8" y="681" font-size="7.0" font-weight="normal" text-anchor="end" fill="#000" textLength="12.8" lengthAdjust="spacingAndGlyphs" stroke="#000" stroke-width="0.32" stroke-linejoin="round" >8000</text>
<line x1="106" y1="658" x2="108.5" y2="658" stroke="#808080" stroke-width="1"/>
<text x="103.8" y="660.4" font-size="7.0" font-weight="normal" text-anchor="end" fill="#000" textLength="16" lengthAdjust="spacingAndGlyphs" stroke="#000" stroke-width="0.32" stroke-linejoin="round" >10000</text>
<line x1="106" y1="637.4" x2="108.5" y2="637.4" stroke="#808080" stroke-width="1"/>
<text x="103.8" y="639.8" font-size="7.0" font-weight="normal" text-anchor="end" fill="#000" textLength="16" lengthAdjust="spacingAndGlyphs" stroke="#000" stroke-width="0.32" stroke-linejoin="round" >12000</text>
<line x1="106" y1="616.8" x2="108.5" y2="616.8" stroke="#808080" stroke-width="1"/>
<text x="103.8" y="619.2" font-size="7.0" font-weight="normal" text-anchor="end" fill="#000" textLength="16" lengthAdjust="spacingAndGlyphs" stroke="#000" stroke-width="0.32" stroke-linejoin="round" >14000</text>
<line x1="106" y1="596.2" x2="108.5" y2="596.2" stroke="#808080" stroke-width="1"/>
<text x="103.8" y="598.6" font-size="7.0" font-weight="normal" text-anchor="end" fill="#000" textLength="16" lengthAdjust="spacingAndGlyphs" stroke="#000" stroke-width="0.32" stroke-linejoin="round" >16000</text>
<line x1="106" y1="575.6" x2="108.5" y2="575.6" stroke="#808080" stroke-width="1"/>
<text x="103.8" y="578" font-size="7.0" font-weight="normal" text-anchor="end" fill="#000" textLength="16" lengthAdjust="spacingAndGlyphs" stroke="#000" stroke-width="0.32" stroke-linejoin="round" >18000</text>
<line x1="106" y1="555" x2="108.5" y2="555" stroke="#808080" stroke-width="1"/>
<text x="103.8" y="557.4" font-size="7.0" font-weight="normal" text-anchor="end" fill="#000" textLength="16" lengthAdjust="spacingAndGlyphs" stroke="#000" stroke-width="0.32" stroke-linejoin="round" >20000</text>
<line x1="108.2" y1="761" x2="108.2" y2="763.5" stroke="#a0a0a0" stroke-width="1"/>
<line x1="159.4" y1="761" x2="159.4" y2="763.5" stroke="#a0a0a0" stroke-width="1"/>
<line x1="210.6" y1="761" x2="210.6" y2="763.5" stroke="#a0a0a0" stroke-width="1"/>
<line x1="261.8" y1="761" x2="261.8" y2="763.5" stroke="#a0a0a0" stroke-width="1"/>
<line x1="313" y1="761" x2="313" y2="763.5" stroke="#a0a0a0" stroke-width="1"/>
<line x1="364.2" y1="761" x2="364.2" y2="763.5" stroke="#a0a0a0" stroke-width="1"/>
<line x1="415.4" y1="761" x2="415.4" y2="763.5" stroke="#a0a0a0" stroke-width="1"/>
<line x1="466.6" y1="761" x2="466.6" y2="763.5" stroke="#a0a0a0" stroke-width="1"/>
<line x1="517.8" y1="761" x2="517.8" y2="763.5" stroke="#a0a0a0" stroke-width="1"/>
<text x="134.4" y="773.7" font-size="6.4" font-weight="bold" text-anchor="middle" fill="#000" stroke="#000" stroke-width="0.25" stroke-linejoin="round" >0</text>
<text x="185.6" y="773.7" font-size="6.4" font-weight="bold" text-anchor="middle" fill="#000" textLength="8.7" lengthAdjust="spacingAndGlyphs" stroke="#000" stroke-width="0.25" stroke-linejoin="round" >0.1</text>
<text x="236.8" y="773.7" font-size="6.4" font-weight="bold" text-anchor="middle" fill="#000" stroke="#000" stroke-width="0.25" stroke-linejoin="round" >1</text>
<text x="288" y="773.7" font-size="6.4" font-weight="bold" text-anchor="middle" fill="#000" textLength="5.8" lengthAdjust="spacingAndGlyphs" stroke="#000" stroke-width="0.25" stroke-linejoin="round" >10</text>
<text x="339.2" y="773.7" font-size="6.4" font-weight="bold" text-anchor="middle" fill="#000" stroke="#000" stroke-width="0.25" stroke-linejoin="round" >0</text>
<text x="390.4" y="773.7" font-size="6.4" font-weight="bold" text-anchor="middle" fill="#000" textLength="8.7" lengthAdjust="spacingAndGlyphs" stroke="#000" stroke-width="0.25" stroke-linejoin="round" >0.1</text>
<text x="441.6" y="773.7" font-size="6.4" font-weight="bold" text-anchor="middle" fill="#000" stroke="#000" stroke-width="0.25" stroke-linejoin="round" >1</text>
<text x="492.8" y="773.7" font-size="6.4" font-weight="bold" text-anchor="middle" fill="#000" textLength="5.8" lengthAdjust="spacingAndGlyphs" stroke="#000" stroke-width="0.25" stroke-linejoin="round" >10</text>
<line x1="127.5" y1="778.3" x2="315.5" y2="778.3" stroke="#222" stroke-width="1"/>
<line x1="327" y1="778.3" x2="511" y2="778.3" stroke="#222" stroke-width="1"/>
<text x="218.3" y="791.4" font-size="8.3" font-weight="bold" text-anchor="middle" fill="#000" textLength="23.5" lengthAdjust="spacingAndGlyphs" stroke="#000" stroke-width="0.3" stroke-linejoin="round" >MM1.S</text>
<text x="418" y="791.4" font-size="8.3" font-weight="bold" text-anchor="middle" fill="#000" textLength="51.5" lengthAdjust="spacingAndGlyphs" stroke="#000" stroke-width="0.3" stroke-linejoin="round" >MM1.S + BMSC</text>
<text x="0" y="0" font-size="7.2" font-weight="bold" text-anchor="middle" fill="#000" textLength="13.7" lengthAdjust="spacingAndGlyphs" transform="translate(84.2 659.2) rotate(-90)">c p m</text>
<rect x="348.4" y="553.4" width="138.1" height="16.1" fill="#fff" stroke="#7c7c7c" stroke-width="1"/>
<rect x="351.8" y="558.6" width="4.2" height="5.6" fill="#fff" stroke="#000" stroke-width="0.9"/>
<text x="357.8" y="564" font-size="9" font-weight="bold" text-anchor="start" fill="#000" textLength="22.2" lengthAdjust="spacingAndGlyphs" stroke="#000" stroke-width="0.2" stroke-linejoin="round" >CS013</text>
<rect x="383.6" y="558.4" width="4.8" height="5.9" fill="#000" stroke="#000" stroke-width="0.5"/>
<text x="390.8" y="564" font-size="9" font-weight="bold" text-anchor="start" fill="#000" textLength="38.4" lengthAdjust="spacingAndGlyphs" stroke="#000" stroke-width="0.2" stroke-linejoin="round" >Rapamycin</text>
<rect x="433.1" y="558.6" width="4.5" height="5.6" fill="#b0b0b0" stroke="#000" stroke-width="1.2"/>
<text x="440" y="564" font-size="9" font-weight="bold" text-anchor="start" fill="#000" textLength="43" lengthAdjust="spacingAndGlyphs" stroke="#000" stroke-width="0.2" stroke-linejoin="round" >Combination</text>
</g>
</svg></body></html>
